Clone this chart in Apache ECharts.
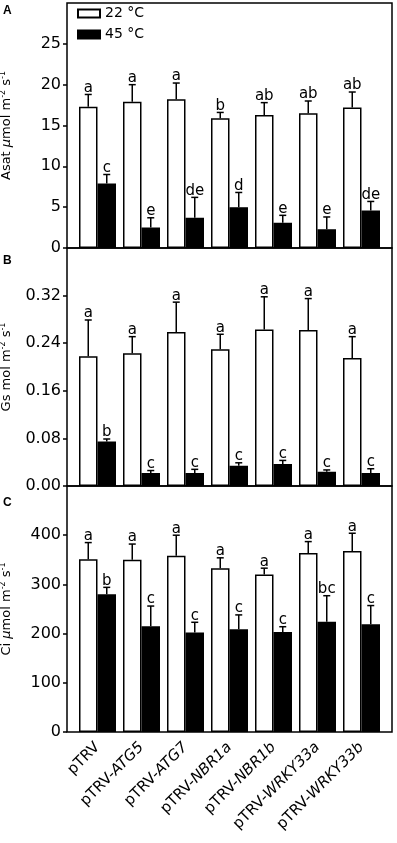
<!DOCTYPE html>
<html>
<head>
<meta charset="utf-8">
<script src="https://cdn.jsdelivr.net/npm/echarts@6/dist/echarts.min.js"></script>
<style>
  html, body { margin: 0; padding: 0; background: #fff; }
  #chart-container { width: 397px; height: 843px; }
</style>
</head>
<body>
<div id="chart-container"></div>
<script>
var dom = document.getElementById('chart-container');
var myChart = echarts.init(dom, null, { renderer: 'canvas' });

// genotypes
const categories = ['pTRV', 'pTRV-ATG5', 'pTRV-ATG7', 'pTRV-NBR1a', 'pTRV-NBR1b', 'pTRV-WRKY33a', 'pTRV-WRKY33b'];
const legendNames = ['22 °C', '45 °C'];

// A: Asat
const asat22 = [17.3, 17.9, 18.2, 15.9, 16.3, 16.5, 17.2];
const asat22Sd = [1.5, 2.1, 2.0, 0.7, 1.5, 1.5, 1.9];
const asat22Letters = ['a', 'a', 'a', 'b', 'ab', 'ab', 'ab'];
const asat45 = [7.9, 2.5, 3.7, 5.0, 3.1, 2.3, 4.6];
const asat45Sd = [1.1, 1.2, 2.5, 1.8, 0.9, 1.5, 1.1];
const asat45Letters = ['c', 'e', 'de', 'd', 'e', 'e', 'de'];

// B: Gs
const gs22 = [0.218, 0.223, 0.259, 0.230, 0.263, 0.262, 0.215];
const gs22Sd = [0.061, 0.028, 0.050, 0.025, 0.055, 0.053, 0.036];
const gs22Letters = ['a', 'a', 'a', 'a', 'a', 'a', 'a'];
const gs45 = [0.075, 0.022, 0.022, 0.034, 0.037, 0.024, 0.022];
const gs45Sd = [0.004, 0.004, 0.006, 0.005, 0.006, 0.003, 0.007];
const gs45Letters = ['b', 'c', 'c', 'c', 'c', 'c', 'c'];

// C: Ci
const ci22 = [351, 350, 358, 333, 320, 364, 368];
const ci22Sd = [34, 32, 42, 21, 13, 23, 36];
const ci22Letters = ['a', 'a', 'a', 'a', 'a', 'a', 'a'];
const ci45 = [280, 215, 202, 209, 203, 224, 219];
const ci45Sd = [14, 41, 21, 29, 11, 53, 38];
const ci45Letters = ['b', 'c', 'c', 'c', 'c', 'bc', 'c'];

const FONT = 'DejaVu Sans';
const BAR_W = 18.5;

// panel layout: [top, height]
const panels = [[3, 245], [248, 238], [486, 246]];

function errSeries(name, idx, means, sds, letters, dx) {
  return {
    type: 'custom',
    name: name,
    xAxisIndex: idx,
    yAxisIndex: idx,
    z: 5,
    data: means.map(function (m, i) { return [i, m, m + sds[i]]; }),
    renderItem: function (params, api) {
      var i = api.value(0);
      var base = api.coord([i, api.value(1)]);
      var top = api.coord([i, api.value(2)]);
      var x = base[0] + dx;
      var ls = { stroke: '#000', lineWidth: 1.5 };
      return {
        type: 'group',
        children: [
          { type: 'line', shape: { x1: x, y1: base[1], x2: x, y2: top[1] }, style: ls },
          { type: 'line', shape: { x1: x - 3.5, y1: top[1], x2: x + 3.5, y2: top[1] }, style: ls },
          { type: 'text', x: x, y: top[1] + 1,
            style: { text: letters[params.dataIndex], align: 'center', verticalAlign: 'bottom',
                     fontFamily: FONT, fontSize: 15, fill: '#000' } }
        ]
      };
    }
  };
}

function barSeries(name, idx, values, white) {
  return {
    type: 'bar',
    name: name,
    xAxisIndex: idx,
    yAxisIndex: idx,
    barWidth: BAR_W,
    barGap: '0%',
    data: values,
    itemStyle: white
      ? { color: '#fff', borderColor: '#000', borderWidth: 1.5 }
      : { color: '#000', borderColor: '#000', borderWidth: 1.5 }
  };
}

const nameRich = {
  n: { fontFamily: FONT, fontSize: 13, lineHeight: 16, color: '#000' },
  i: { fontFamily: FONT, fontSize: 13, lineHeight: 16, fontStyle: 'italic', color: '#000' },
  s: { fontFamily: FONT, fontSize: 8, lineHeight: 16, verticalAlign: 'top', color: '#000' }
};

const yNames = [
  '{n|Asat }{i|μ}{n|mol m}{s|-2}{n| s}{s|-1}',
  '{n|Gs mol m}{s|-2}{n| s}{s|-1}',
  '{n|Ci }{i|μ}{n|mol m}{s|-2}{n| s}{s|-1}'
];
const yMax = [30, 0.4, 500];
const yStep = [5, 0.08, 100];

var grids = [], xAxes = [], yAxes = [];
panels.forEach(function (p, k) {
  grids.push({ left: 75.5, right: 13.5, top: p[0], height: p[1], show: false,
               containLabel: false, outerBoundsMode: 'none' });
});
panels.forEach(function (p, k) {
  grids.push({ left: 67, right: 5, top: p[0], height: p[1], show: true,
               containLabel: false, outerBoundsMode: 'none',
               borderColor: '#000', borderWidth: 1.5, backgroundColor: 'transparent' });
});

panels.forEach(function (p, k) {
  xAxes.push({
    type: 'category',
    gridIndex: k,
    data: categories,
    axisLine: { show: false },
    axisTick: { show: false },
    axisLabel: {
      show: k === 2,
      rotate: 45,
      margin: 13,
      interval: 0,
      formatter: function (v) {
        var parts = v.split('-');
        return parts.length > 1 ? '{n|' + parts[0] + '-}{i|' + parts[1] + '}' : '{n|' + v + '}';
      },
      rich: {
        n: { fontFamily: FONT, fontSize: 15, color: '#000' },
        i: { fontFamily: FONT, fontSize: 15, fontStyle: 'italic', color: '#000' }
      }
    }
  });
  yAxes.push({
    type: 'value',
    gridIndex: k,
    min: 0,
    max: yMax[k],
    interval: yStep[k],
    offset: 8.5,
    splitLine: { show: false },
    axisLine: { show: false },
    axisTick: { show: true, inside: false, length: 4, lineStyle: { color: '#000', width: 1.5 } },
    axisLabel: {
      showMaxLabel: false,
      margin: 6,
      color: '#000',
      fontFamily: FONT,
      fontSize: 16,
      formatter: function (v) { return k === 1 ? v.toFixed(2) : String(v); }
    },
    name: yNames[k],
    nameLocation: 'middle',
    nameGap: 52,
    nameTextStyle: { rich: nameRich }
  });
});
// hidden axes for the frame grids
panels.forEach(function (p, k) {
  xAxes.push({ type: 'value', gridIndex: 3 + k, show: false });
  yAxes.push({ type: 'value', gridIndex: 3 + k, show: false });
});

var option = {
  animation: false,
  backgroundColor: '#fff',
  title: [
    { text: 'A', left: 3, top: 5 },
    { text: 'B', left: 3, top: 255 },
    { text: 'C', left: 3, top: 497 }
  ].map(function (t) {
    t.textStyle = { fontFamily: 'Liberation Sans', fontSize: 12, fontWeight: 'bold', color: '#000' };
    t.padding = 0;
    return t;
  }),
  legend: {
    data: legendNames,
    orient: 'vertical',
    left: 77,
    top: 6,
    icon: 'rect',
    itemWidth: 22,
    itemHeight: 8,
    itemGap: 6,
    padding: 0,
    textStyle: { fontFamily: FONT, fontSize: 14, color: '#000', lineHeight: 15 }
  },
  grid: grids,
  xAxis: xAxes,
  yAxis: yAxes,
  series: [
    barSeries(legendNames[0], 0, asat22, true),
    barSeries(legendNames[1], 0, asat45, false),
    errSeries('errA22', 0, asat22, asat22Sd, asat22Letters, -BAR_W / 2),
    errSeries('errA45', 0, asat45, asat45Sd, asat45Letters, BAR_W / 2),
    barSeries(legendNames[0], 1, gs22, true),
    barSeries(legendNames[1], 1, gs45, false),
    errSeries('errB22', 1, gs22, gs22Sd, gs22Letters, -BAR_W / 2),
    errSeries('errB45', 1, gs45, gs45Sd, gs45Letters, BAR_W / 2),
    barSeries(legendNames[0], 2, ci22, true),
    barSeries(legendNames[1], 2, ci45, false),
    errSeries('errC22', 2, ci22, ci22Sd, ci22Letters, -BAR_W / 2),
    errSeries('errC45', 2, ci45, ci45Sd, ci45Letters, BAR_W / 2)
  ]
};

myChart.setOption(option);
window.addEventListener('resize', myChart.resize);
</script>
</body>
</html>
